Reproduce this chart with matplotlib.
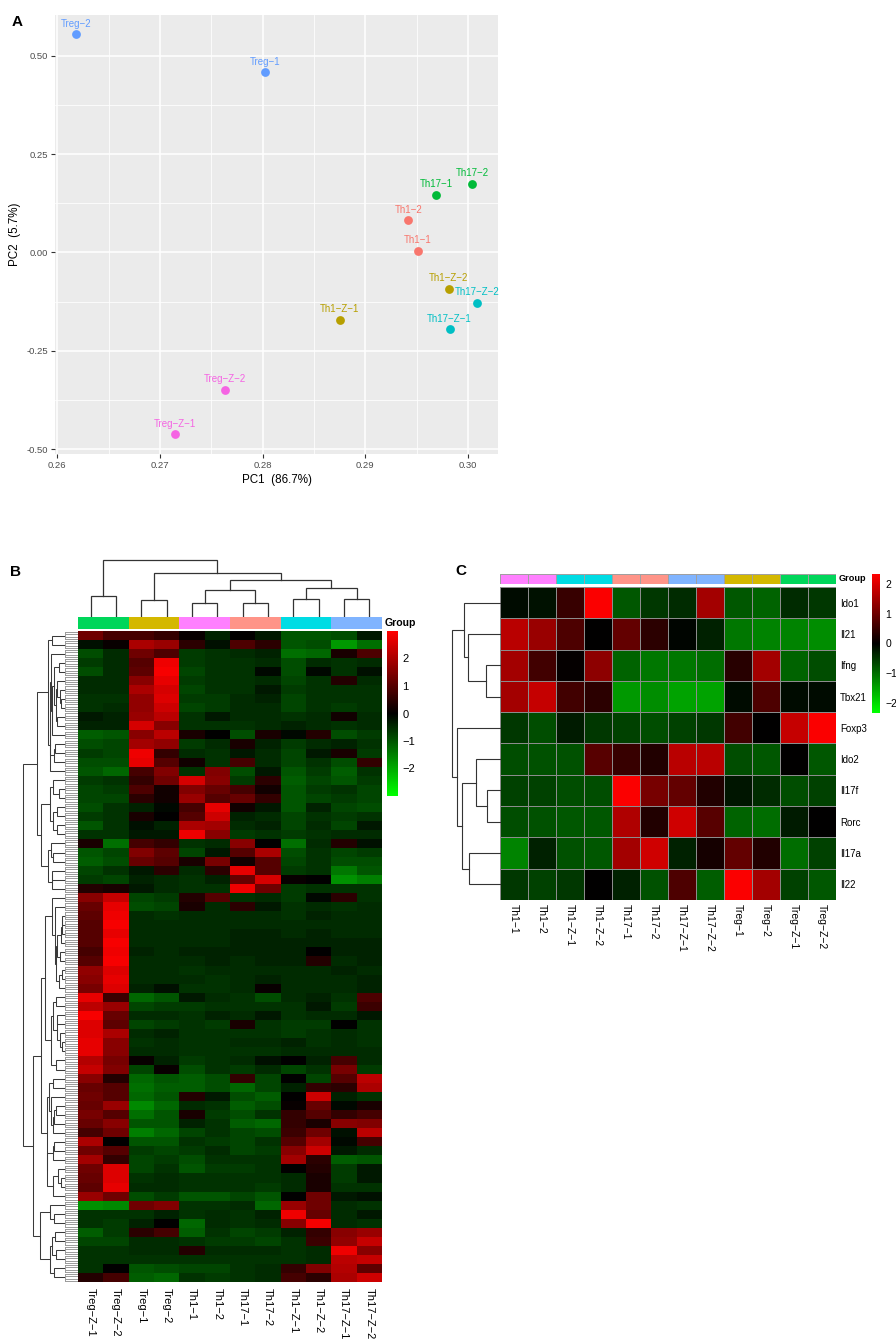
import numpy as np
import matplotlib
matplotlib.use('Agg')
import matplotlib.pyplot as plt
from matplotlib.colors import LinearSegmentedColormap, ListedColormap, Normalize, to_rgb
from matplotlib.cm import ScalarMappable
from matplotlib.ticker import FormatStrFormatter

plt.rcParams['font.family'] = ['Liberation Sans', 'DejaVu Sans']

# ---------------- Panel A data ----------------
pca_samples = ['Treg-2', 'Treg-1', 'Th17-2', 'Th17-1', 'Th1-2', 'Th1-1',
               'Th1-Z-2', 'Th17-Z-2', 'Th1-Z-1', 'Th17-Z-1', 'Treg-Z-2', 'Treg-Z-1']
pca_groups = ['Treg', 'Treg', 'Th17', 'Th17', 'Th1', 'Th1',
              'Th1-Z', 'Th17-Z', 'Th1-Z', 'Th17-Z', 'Treg-Z', 'Treg-Z']
pc1 = [0.2618, 0.2802, 0.3004, 0.2969, 0.2942, 0.2951,
       0.2981, 0.3009, 0.2875, 0.2982, 0.2763, 0.2715]
pc2 = [0.555, 0.458, 0.174, 0.147, 0.081, 0.004,
       -0.092, -0.128, -0.171, -0.196, -0.350, -0.463]
pca_colors = {'Th1': '#F8766D', 'Th1-Z': '#B79F00', 'Th17': '#00BA38',
              'Th17-Z': '#00BFC4', 'Treg': '#619CFF', 'Treg-Z': '#F564E3'}
pc1_ticks = [0.26, 0.27, 0.28, 0.29, 0.30]
pc2_ticks = [-0.50, -0.25, 0.00, 0.25, 0.50]

# ---------------- Panel B data ----------------
colB_labels = ['Treg-Z-1', 'Treg-Z-2', 'Treg-1', 'Treg-2', 'Th1-1', 'Th1-2',
               'Th17-1', 'Th17-2', 'Th1-Z-1', 'Th1-Z-2', 'Th17-Z-1', 'Th17-Z-2']
colB_groups = ['Treg-Z', 'Treg-Z', 'Treg', 'Treg', 'Th1', 'Th1',
               'Th17', 'Th17', 'Th1-Z', 'Th1-Z', 'Th17-Z', 'Th17-Z']
heat_group_colors = {'Treg-Z': '#00D65A', 'Treg': '#D4B800', 'Th1': '#FF80FF',
                     'Th17': '#FF9488', 'Th1-Z': '#00DCE4', 'Th17-Z': '#80B4FF'}
# column dendrogram merges (left, right, height)
colB_linkage = [(0, 1, 21), (2, 3, 17), (4, 5, 14), (6, 7, 14), (8, 9, 18), (10, 11, 18),
                (14, 15, 27), (16, 17, 29), (18, 19, 37), (13, 20, 44), (12, 21, 57)]
matB = [
    [1.3, 0.8, 0.8, 0.6, 0.1, -0.4, 0.0, -0.3, -1.0, -1.0, -0.9, -0.3],
    [-0.2, 0.1, 2.0, 1.8, 0.5, -0.2, 0.9, 0.5, -1.0, -0.9, -1.8, -1.3],
    [-0.9, -0.5, 1.3, 0.9, -0.7, -0.6, -0.5, -0.4, -1.3, -1.2, 0.3, 0.9],
    [-0.7, -0.5, 1.0, 2.8, -0.7, -0.6, -0.6, -0.5, -0.9, -0.5, -0.6, -0.5],
    [-0.9, -0.5, 1.1, 2.9, -0.8, -0.6, -0.6, -0.1, -0.9, -0.1, -0.6, -0.2],
    [-0.5, -0.5, 1.6, 2.7, -0.7, -0.6, -0.6, -0.5, -0.8, -0.6, 0.4, -0.5],
    [-0.5, -0.5, 2.0, 2.5, -0.8, -0.6, -0.6, -0.3, -0.7, -0.6, -0.6, -0.6],
    [-0.6, -0.6, 1.7, 2.6, -0.7, -0.7, -0.5, -0.4, -0.8, -0.6, -0.6, -0.6],
    [-0.6, -0.5, 1.7, 2.4, -0.8, -0.7, -0.5, -0.5, -0.8, -0.6, -0.7, -0.6],
    [-0.3, -0.4, 1.8, 2.2, -0.6, -0.3, -0.5, -0.5, -0.6, -0.5, 0.2, -0.5],
    [-0.4, -0.4, 2.5, 1.6, -0.6, -0.6, -0.6, -0.5, -0.4, -0.5, -0.6, -0.5],
    [-1.1, -1.0, 1.6, 2.2, 0.3, 0.0, -0.9, 0.3, -0.1, 0.4, -0.9, -0.7],
    [-0.9, -0.8, 1.9, 1.7, -0.7, -0.5, 0.3, -0.4, -0.7, -0.5, -0.4, -0.6],
    [-0.7, -0.8, 2.8, 0.6, -0.5, -0.6, -0.3, -0.5, -0.8, -0.3, 0.3, -0.7],
    [-0.9, -0.9, 2.7, 1.0, 0.2, -0.6, 0.8, -0.5, -0.8, -0.6, -0.9, 0.6],
    [-1.0, -1.2, 0.8, 1.5, -0.6, 1.5, -0.9, -0.3, -1.0, -0.7, -1.1, -0.6],
    [-0.7, -0.6, 0.6, 1.3, 2.5, 1.6, -0.7, 0.5, -1.1, -0.8, -1.0, -0.7],
    [-0.8, -0.7, 0.9, 0.2, 1.5, 1.2, 0.8, 0.2, -1.0, -0.7, -0.6, -0.8],
    [-0.8, -0.8, 0.5, 0.2, 1.8, 1.0, 1.2, 0.6, -1.0, -0.8, -0.7, -0.8],
    [-0.9, -0.6, -0.4, -0.1, 0.8, 2.7, 0.2, -0.3, -1.0, -0.4, -0.8, -0.9],
    [-0.7, -0.6, 0.3, 0.0, 1.0, 2.4, -0.4, -0.5, -0.8, -0.6, -0.7, -0.6],
    [-1.0, -0.6, -0.2, -0.4, 2.0, 1.9, -0.5, -0.4, -0.8, -0.5, -0.8, -0.3],
    [-0.6, -0.6, -0.3, -0.3, 2.8, 1.6, -0.7, -0.6, -0.7, -0.6, -0.5, -0.5],
    [0.3, -1.3, 0.8, 0.6, -0.6, -0.5, 1.6, 0.0, -1.3, -0.5, 0.4, -0.2],
    [-1.0, -0.8, 1.5, 1.1, -0.8, -0.3, 1.0, 2.0, -0.9, -0.6, -0.8, -0.7],
    [-1.1, -0.9, 1.2, 1.0, 0.3, 1.4, 0.2, 1.0, -0.8, -0.6, -0.9, -0.9],
    [-0.8, -0.6, -0.3, 0.5, -0.5, 0.5, 2.7, 1.0, -0.7, -0.6, -1.4, -1.0],
    [-0.7, -0.8, -0.4, -0.5, -0.6, -0.4, 1.2, 2.5, 0.1, 0.0, -1.7, -1.5],
    [0.4, 0.3, -0.3, -0.5, -0.6, -0.6, 2.8, 1.3, -0.7, -0.6, -0.6, -0.6],
    [1.6, 2.3, -0.8, -0.7, 0.4, 1.0, -0.6, -0.5, -0.7, -0.1, 0.5, -0.6],
    [1.2, 2.7, -0.9, -0.8, 0.3, -0.5, 0.5, -0.3, -0.6, -0.5, -0.6, -0.5],
    [1.1, 2.8, -0.5, -0.6, -0.5, -0.5, -0.5, -0.5, -0.6, -0.4, -0.5, -0.5],
    [1.0, 2.9, -0.5, -0.5, -0.5, -0.5, -0.5, -0.5, -0.5, -0.5, -0.5, -0.5],
    [1.0, 2.7, -0.5, -0.5, -0.5, -0.5, -0.4, -0.4, -0.5, -0.4, -0.5, -0.5],
    [1.0, 2.9, -0.5, -0.5, -0.5, -0.5, -0.4, -0.4, -0.4, -0.4, -0.4, -0.4],
    [0.8, 2.8, -0.4, -0.5, -0.4, -0.4, -0.4, -0.4, -0.4, 0.0, -0.4, -0.4],
    [1.0, 2.9, -0.5, -0.5, -0.5, -0.4, -0.5, -0.4, -0.4, 0.4, -0.5, -0.4],
    [1.7, 2.6, -0.5, -0.5, -0.6, -0.5, -0.5, -0.5, -0.5, -0.5, -0.4, -0.5],
    [1.6, 2.7, -0.5, -0.5, -0.5, -0.6, -0.5, -0.4, -0.5, -0.5, -0.5, -0.4],
    [1.4, 2.6, -0.4, -0.2, -0.6, -0.6, -0.5, 0.1, -0.5, -0.5, -0.5, -0.4],
    [2.7, 0.7, -1.2, -1.0, -0.3, -0.5, -0.6, -0.9, -0.5, -0.4, -0.6, 0.9],
    [2.2, 1.8, -0.8, -0.7, -0.7, -0.6, -0.6, -0.6, -0.6, -0.3, -0.7, 0.7],
    [2.9, 1.2, -0.5, -0.5, -0.6, -0.4, -0.5, -0.3, -0.6, -0.5, -0.5, -0.3],
    [2.6, 1.1, -0.8, -0.7, -0.6, -0.7, 0.3, -0.6, -0.7, -0.7, 0.0, -0.6],
    [2.6, 2.0, -0.5, -0.4, -0.6, -0.6, -0.6, -0.6, -0.7, -0.6, -0.5, -0.6],
    [2.7, 1.6, -0.6, -0.5, -0.6, -0.6, -0.5, -0.5, -0.4, -0.6, -0.5, -0.6],
    [2.7, 1.6, -0.5, -0.5, -0.6, -0.6, -0.6, -0.6, -0.5, -0.5, -0.5, -0.5],
    [2.1, 1.4, 0.1, -0.4, -0.7, -0.6, -0.5, -0.2, 0.0, -0.4, 0.8, -0.5],
    [2.3, 1.5, -0.8, 0.1, -0.9, -0.6, -0.7, -0.5, -0.8, -0.6, 1.4, -0.7],
    [1.6, 0.4, -1.2, -1.0, -1.1, -0.9, 0.6, -0.8, 0.0, -0.8, 1.0, 2.2],
    [1.2, 1.0, -1.3, -1.1, -1.1, -0.9, -1.2, -0.8, -0.4, 0.6, 0.5, 2.0],
    [1.3, 1.0, -1.2, -1.0, 0.4, -0.3, -0.9, -1.1, 0.0, 2.4, -0.4, -0.6],
    [1.2, 1.8, -1.6, -1.2, -0.5, -0.6, -1.1, -0.9, 0.1, 1.2, -0.1, 0.3],
    [1.4, 1.0, -1.3, -1.0, 0.3, -0.7, -0.9, -0.6, 0.6, 1.0, 0.6, 0.8],
    [1.2, 1.6, -1.0, -1.0, -0.4, -0.6, -1.1, -1.2, 0.6, 0.3, 1.6, 1.5],
    [0.8, 1.3, -1.5, -1.2, -0.8, -0.6, -0.8, -0.9, 0.7, 1.3, -0.2, 2.2],
    [2.0, 0.0, -1.0, -1.0, -0.6, -0.7, -0.8, -0.6, 1.0, 1.9, -0.1, 0.8],
    [1.3, 1.0, -0.7, -0.8, -0.7, -0.5, -0.8, -0.7, 1.6, 2.4, -0.3, -0.5],
    [1.9, 0.6, -0.8, -0.7, -0.9, -0.6, -0.6, -0.6, 1.9, 0.5, -1.1, -1.0],
    [1.3, 2.6, -0.8, -0.6, -1.0, -0.7, -0.7, -0.6, 0.0, 0.4, -0.7, -0.3],
    [1.2, 2.6, -0.6, -0.5, -0.6, -0.6, -0.6, -0.6, -0.5, 0.3, -0.7, -0.3],
    [1.1, 2.7, -0.5, -0.5, -0.6, -0.6, -0.6, -0.7, -0.5, 0.3, -0.6, -0.6],
    [1.8, 1.3, -0.9, -0.7, -1.0, -1.0, -0.8, -1.0, 0.0, 1.3, -0.3, -0.2],
    [-1.7, -1.6, 1.3, 1.5, -0.6, -0.6, -0.5, -1.2, 1.8, 1.3, -0.5, -0.6],
    [-0.6, -0.6, -0.6, -0.4, -0.6, -0.5, -0.6, -0.4, 2.8, 1.2, -0.5, -0.3],
    [-0.6, -0.7, -0.4, 0.0, -1.2, -0.5, -0.6, -0.5, 1.6, 2.9, -0.5, -0.6],
    [-1.1, -0.7, 0.5, 0.8, -1.1, -0.6, -0.8, -0.7, -0.4, 0.6, 1.6, 1.8],
    [-0.8, -0.8, -0.5, -0.5, -0.6, -0.7, -0.7, -0.8, -0.6, 0.7, 1.7, 2.3],
    [-0.6, -0.6, -0.5, -0.5, 0.4, -0.5, -0.5, -0.5, -0.6, -0.5, 2.8, 1.6],
    [-0.6, -0.6, -0.6, -0.6, -0.6, -0.6, -0.6, -0.6, -0.6, -0.5, 2.2, 2.3],
    [-0.6, 0.0, -1.0, -0.9, -0.8, -0.8, -0.6, -0.5, 0.6, 1.5, 2.1, 1.1],
    [0.4, 0.8, -1.1, -1.2, -0.6, -0.7, -0.6, -0.5, 0.8, 0.5, 2.0, 2.4],
]
B_ticks = [-2, -1, 0, 1, 2]

# ---------------- Panel C data ----------------
colC_labels = ['Th1-1', 'Th1-2', 'Th1-Z-1', 'Th1-Z-2', 'Th17-1', 'Th17-2',
               'Th17-Z-1', 'Th17-Z-2', 'Treg-1', 'Treg-2', 'Treg-Z-1', 'Treg-Z-2']
colC_groups = ['Th1', 'Th1', 'Th1-Z', 'Th1-Z', 'Th17', 'Th17',
               'Th17-Z', 'Th17-Z', 'Treg', 'Treg', 'Treg-Z', 'Treg-Z']
genesC = ['Ido1', 'Il21', 'Ifng', 'Tbx21', 'Foxp3', 'Ido2', 'Il17f', 'Rorc', 'Il17a', 'Il22']
matC = [
    [-0.1, -0.15, 0.5, 2.3, -0.8, -0.5, -0.4, 1.5, -0.8, -0.9, -0.4, -0.5],
    [1.7, 1.4, 0.7, 0.0, 0.9, 0.4, -0.05, -0.3, -1.1, -1.2, -1.2, -1.3],
    [1.5, 0.6, 0.05, 1.3, -0.9, -1.1, -1.1, -1.0, 0.35, 1.5, -0.9, -0.7],
    [1.5, 1.8, 0.6, 0.4, -1.4, -1.3, -1.5, -1.5, -0.1, 0.7, -0.1, -0.1],
    [-0.5, -0.7, -0.25, -0.5, -0.6, -0.7, -0.6, -0.5, 0.6, 0.0, 1.8, 2.3],
    [-0.7, -0.75, -0.75, 0.8, 0.5, 0.3, 1.7, 1.7, -0.7, -0.8, 0.0, -0.8],
    [-0.6, -0.6, -0.7, -0.7, 2.3, 1.1, 0.9, 0.3, -0.2, -0.4, -0.7, -0.6],
    [-0.7, -0.75, -0.8, -0.8, 1.6, 0.3, 1.9, 0.8, -0.9, -1.0, -0.25, 0.0],
    [-1.2, -0.3, -0.75, -0.8, 1.5, 1.9, -0.3, 0.2, 0.9, 0.3, -1.0, -0.6],
    [-0.5, -0.6, -0.5, 0.0, -0.3, -0.75, 0.7, -0.85, 2.3, 1.5, -0.6, -0.8],
]
rowC_linkage = [(2, 3, 14), (1, 10, 32), (0, 11, 36), (6, 7, 13), (5, 13, 24),
                (8, 9, 31), (14, 15, 38), (4, 16, 43), (12, 17, 48)]
C_ticks = [-2, -1, 0, 1, 2]

# ---------------- helpers ----------------
W, H = 896, 1339
fig = plt.figure(figsize=(W / 100, H / 100), dpi=100)


def add_ax(l, t, r, b):
    return fig.add_axes([l / W, 1 - b / H, (r - l) / W, (b - t) / H])


def disp(s):
    return s.replace('-', '\u2212')


def draw_dendro(ax, n, merges, orient, color='#333333', lw=0.9):
    pos = {i: i + 0.5 for i in range(n)}
    hgt = {i: 0.0 for i in range(n)}
    nid = n
    for a, b, h in merges:
        xa, xb = pos[a], pos[b]
        ha, hb = hgt[a], hgt[b]
        if orient == 'top':
            ax.plot([xa, xa, xb, xb], [ha, h, h, hb], color=color, lw=lw,
                    solid_joinstyle='miter', clip_on=False)
        else:
            ax.plot([ha, h, h, hb], [xa, xa, xb, xb], color=color, lw=lw,
                    solid_joinstyle='miter', clip_on=False)
        pos[nid] = (xa + xb) / 2
        hgt[nid] = h
        nid += 1
    return pos, hgt


def adjacent_linkage(M):
    M = np.asarray(M, float)
    n = len(M)
    clusters = [dict(id=i, size=1, cent=M[i].copy(), h=0.0) for i in range(n)]
    merges = []
    nid = n
    while len(clusters) > 1:
        best = None
        for k in range(len(clusters) - 1):
            a, b = clusters[k], clusters[k + 1]
            na, nb = a['size'], b['size']
            d = np.sqrt(2 * na * nb / (na + nb)) * np.linalg.norm(a['cent'] - b['cent'])
            if best is None or d < best[0]:
                best = (d, k)
        d, k = best
        a, b = clusters[k], clusters[k + 1]
        na, nb = a['size'], b['size']
        h = max(d, a['h'], b['h'])
        merges.append((a['id'], b['id'], h))
        clusters[k:k + 2] = [dict(id=nid, size=na + nb,
                                  cent=(a['cent'] * na + b['cent'] * nb) / (na + nb), h=h)]
        nid += 1
    return merges


cmap_gbr = LinearSegmentedColormap.from_list('gbr', ['#00FF00', '#000000', '#FF0000'])

# ================= Panel A =================
axA = add_ax(55, 15, 498, 454)
axA.set_facecolor('#EBEBEB')
for s in axA.spines.values():
    s.set_visible(False)
axA.set_xlim(0.25978, 0.30292)
axA.set_ylim(-0.5127, 0.6035)
axA.set_xticks(pc1_ticks)
axA.set_yticks(pc2_ticks)
axA.set_xticks([0.265, 0.275, 0.285, 0.295], minor=True)
axA.set_yticks([-0.375, -0.125, 0.125, 0.375], minor=True)
axA.xaxis.set_major_formatter(FormatStrFormatter('%.2f'))
axA.yaxis.set_major_formatter(FormatStrFormatter('%.2f'))
axA.grid(which='major', color='white', lw=1.1)
axA.grid(which='minor', color='white', lw=0.55)
axA.set_axisbelow(True)
axA.tick_params(which='major', length=3, width=0.8, color='#333333',
                labelsize=6.8, labelcolor='#4D4D4D', pad=2)
axA.tick_params(which='minor', length=0)
for x, y, name, g in zip(pc1, pc2, pca_samples, pca_groups):
    c = pca_colors[g]
    axA.scatter(x, y, s=40, color=c, zorder=3, linewidths=0)
    axA.annotate(disp(name), (x, y), xytext=(0, 4), textcoords='offset points',
                 ha='center', va='bottom', fontsize=7, color=c, zorder=4)
axA.set_xlabel('PC1  (86.7%)', fontsize=8.4, labelpad=3)
axA.set_ylabel('PC2  (5.7%)', fontsize=8.4, labelpad=4)
fig.text(12 / W, 1 - 22 / H, 'A', fontsize=11, fontweight='bold', va='center', ha='left')

# ================= Panel B =================
nB = len(matB)
MB = np.array(matB)
axBd = add_ax(78, 560, 382, 617)
axBd.set_xlim(0, 12)
axBd.set_ylim(0, 57)
axBd.axis('off')
draw_dendro(axBd, 12, colB_linkage, 'top')

axBg = add_ax(78, 617, 382, 629)
grp_order = list(heat_group_colors.keys())
grp_cmap = ListedColormap([heat_group_colors[g] for g in grp_order])
axBg.pcolormesh(np.arange(13), [0, 1], np.array([[grp_order.index(g) for g in colB_groups]]),
                cmap=grp_cmap, vmin=-0.5, vmax=len(grp_order) - 0.5)
axBg.set_xlim(0, 12)
axBg.axis('off')

axBh = add_ax(78, 631, 382, 1282)
axBh.imshow(MB, cmap=cmap_gbr, vmin=-3, vmax=3, aspect='auto',
            interpolation='nearest', extent=(0, 12, nB, 0))
axBh.set_xlim(0, 12)
axBh.set_ylim(nB, 0)
for s in axBh.spines.values():
    s.set_visible(False)
axBh.set_yticks([])
axBh.set_xticks(np.arange(12) + 0.5)
axBh.set_xticklabels([disp(c) for c in colB_labels], rotation=270, fontsize=8)
axBh.tick_params(axis='x', length=0, pad=4)

# row dendrogram (adjacent-constrained Ward on displayed rows)
rowB_linkage = adjacent_linkage(MB)
hmax = max(m[2] for m in rowB_linkage)
rowB_draw = [(a, b, (h / hmax) ** 0.55) for a, b, h in rowB_linkage]
axBr = add_ax(23, 631, 65, 1282)
axBr.set_ylim(nB, 0)
axBr.set_xlim(1.0, 0)
axBr.axis('off')
draw_dendro(axBr, nB, rowB_draw, 'left', color='#3a3a3a', lw=0.75)
# dense leaf stems
axBl = add_ax(65, 631, 78, 1282)
axBl.set_ylim(nB, 0)
axBl.set_xlim(0, 1)
axBl.axis('off')
for r in range(nB):
    subs = [r + 0.12, r + 0.37, r + 0.63, r + 0.88]
    for yy in subs:
        axBl.plot([0, 1], [yy, yy], color='#9A9A9A', lw=0.7)
    axBl.plot([0, 0], [subs[0], subs[-1]], color='#9A9A9A', lw=0.7)

caxB = add_ax(387, 631, 398, 796)
cbB = fig.colorbar(ScalarMappable(norm=Normalize(-3, 3), cmap=cmap_gbr), cax=caxB, ticks=B_ticks)
cbB.outline.set_visible(False)
caxB.tick_params(length=0, labelsize=8, pad=3)
fig.text(385 / W, 1 - 623 / H, 'Group', fontsize=7.6, fontweight='bold', va='center', ha='left')
fig.text(10 / W, 1 - 572 / H, 'B', fontsize=11, fontweight='bold', va='center', ha='left')

# ================= Panel C =================
MC = np.array(matC)
axCg = add_ax(500, 574, 836, 584)
axCg.pcolormesh(np.arange(13), [0, 1], np.array([[grp_order.index(g) for g in colC_groups]]),
                cmap=grp_cmap, vmin=-0.5, vmax=len(grp_order) - 0.5,
                edgecolors='#A0A0A0', linewidth=0.6)
axCg.set_xlim(0, 12)
axCg.axis('off')

axCh = add_ax(500, 587, 836, 900)
axCh.pcolormesh(np.arange(13), np.arange(11), MC, cmap=cmap_gbr, vmin=-2.35, vmax=2.35,
                edgecolors='#8C8C8C', linewidth=0.7)
axCh.set_xlim(0, 12)
axCh.set_ylim(10, 0)
for s in axCh.spines.values():
    s.set_visible(False)
axCh.yaxis.tick_right()
axCh.set_yticks(np.arange(10) + 0.5)
axCh.set_yticklabels(genesC, fontsize=7)
axCh.set_xticks(np.arange(12) + 0.5)
axCh.set_xticklabels([disp(c) for c in colC_labels], rotation=270, fontsize=7.5)
axCh.tick_params(length=0, pad=3)

axCr = add_ax(452, 587, 500, 900)
axCr.set_ylim(10, 0)
axCr.set_xlim(48, 0)
axCr.axis('off')
draw_dendro(axCr, 10, rowC_linkage, 'left', lw=0.8)

caxC = add_ax(872, 574, 880, 713)
cbC = fig.colorbar(ScalarMappable(norm=Normalize(-2.35, 2.35), cmap=cmap_gbr), cax=caxC, ticks=C_ticks)
cbC.outline.set_visible(False)
caxC.tick_params(length=0, labelsize=7.5, pad=4)
fig.text(839 / W, 1 - 579 / H, 'Group', fontsize=6.6, fontweight='bold', va='center', ha='left')
fig.text(455 / W, 1 - 571 / H, 'C', fontsize=11, fontweight='bold', va='center', ha='left')

fig.savefig('out.png', dpi=100)
